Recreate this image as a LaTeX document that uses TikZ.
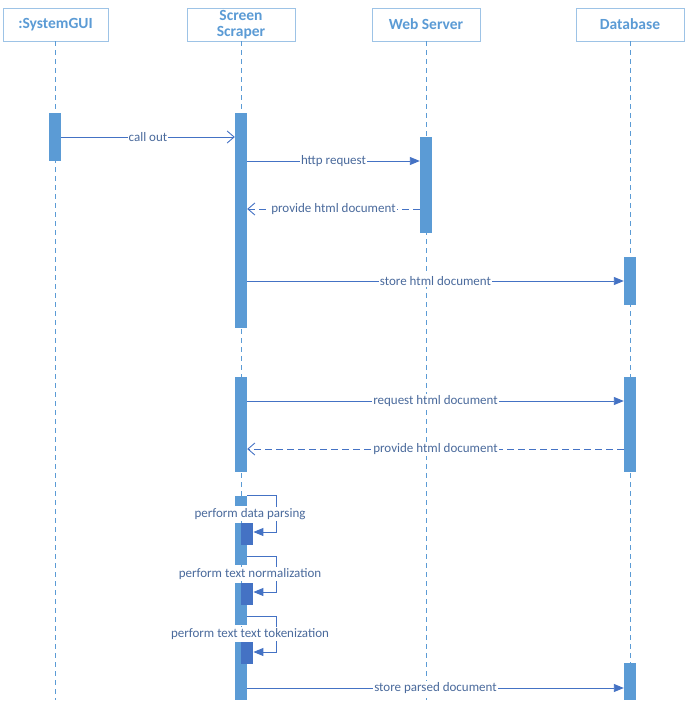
\documentclass[tikz,border=0pt]{standalone}
\usepackage{fontspec}
\setmainfont{Carlito}
\usetikzlibrary{arrows.meta, positioning}
\definecolor{actblue}{HTML}{5B9BD5}
\definecolor{deepblue}{HTML}{4472C4}
\definecolor{msgtext}{HTML}{4A6A9C}
\definecolor{headline}{HTML}{9DC3E6}
\tikzset{
  head/.style={draw=headline, fill=white, text=actblue, font=\bfseries\fontsize{15.5}{16.5}\selectfont,
    minimum width=108, minimum height=33, align=center, inner sep=0},
  lifeline/.style={draw=actblue, dash pattern=on 5pt off 4pt, line width=0.8pt},
  act/.style={fill=actblue, minimum width=12, inner sep=0},
  subact/.style={fill=deepblue, minimum width=12, inner sep=0},
  call/.style={draw=deepblue, line width=0.9pt, -{Triangle[length=10pt, width=8pt]}},
  reply/.style={draw=deepblue, line width=0.9pt, dash pattern=on 7pt off 4pt, -{Straight Barb[length=7pt, width=12pt]}},
  open/.style={draw=deepblue, line width=0.9pt, -{Straight Barb[length=7pt, width=12pt]}},
  lbl/.style={fill=white, text=msgtext, font=\fontsize{13}{14}\selectfont, inner sep=1pt}
}
\begin{document}
\begin{tikzpicture}[x=1pt, y=-1pt]
  \useasboundingbox (0,0) rectangle (685,703);
  % heads of the four objects
  \node[head, minimum width=105] (gui) at (55.5,24.5) {:SystemGUI};
  \node[head] (scr) at (241,24.5) {Screen\\Scraper};
  \node[head] (web) at (426,24.5) {Web Server};
  \node[head] (db) at (630,24.5) {Database};
  \foreach \o in {gui, scr, web, db}
    \draw[lifeline] (\o.south) -- (\o.south |- 0,700);

  % activations
  \node[act, minimum height=48] (g1) at (55,137) {};
  \node[act, minimum height=215] (s1) at (241,220.5) {};
  \node[act, minimum height=96] (w1) at (426,185) {};
  \node[act, minimum height=48] (d1) at (630,281) {};
  \node[act, minimum height=95] (s2) at (241,424.5) {};
  \node[act, minimum height=95] (d2) at (630,424.5) {};
  \node[act, minimum height=10] (s3) at (241,500.5) {};
  \node[act, minimum height=42] (s4) at (241,544) {};
  \node[act, minimum height=42] (s5) at (241,604) {};
  \node[act, minimum height=58] (s6) at (241,671) {};
  \node[act, minimum height=37] (d3) at (630,681.5) {};

  % messages
  \draw[open] (g1.east |- 0,137) -- node[lbl]{call out} (s1.west |- 0,137);
  \draw[call] (s1.east |- 0,161) -- node[lbl]{http request} (w1.west |- 0,161);
  \draw[reply] (w1.west |- 0,209) -- node[lbl]{provide html document} (s1.east |- 0,209);
  \draw[call] (s1.east |- 0,281) -- node[lbl]{store html document} (d1.west |- 0,281);
  \draw[call] (s2.east |- 0,401) -- node[lbl]{request html document} (d2.west |- 0,401);
  \draw[reply] (d2.west |- 0,449) -- node[lbl]{provide html document} (s2.east |- 0,449);
  \draw[call] (s6.east |- 0,688) -- node[lbl]{store parsed document} (d3.west |- 0,688);

  % self calls
  \node[subact, minimum height=22, anchor=north west] (p1) at (s4.north) {};
  \node[subact, minimum height=22, anchor=north west] (p2) at (s5.north) {};
  \node[subact, minimum height=22, anchor=north west] (p3) at (s6.north) {};
  \draw[call] (s3.north east) -- ++(29,0) |- (p1.east |- 0,532);
  \draw[call] (s4.east |- 0,556) -- ++(29,0) |- (p2.east |- 0,592);
  \draw[call] (s5.east |- 0,616) -- ++(29,0) |- (p3.east |- 0,652);
  \node[lbl] (l1) at (250,514) {perform data parsing};
  \node[lbl] (l2) at (250,574) {perform text normalization};
  \node[lbl] (l3) at (250,634) {perform text text tokenization};
\end{tikzpicture}
\end{document}
